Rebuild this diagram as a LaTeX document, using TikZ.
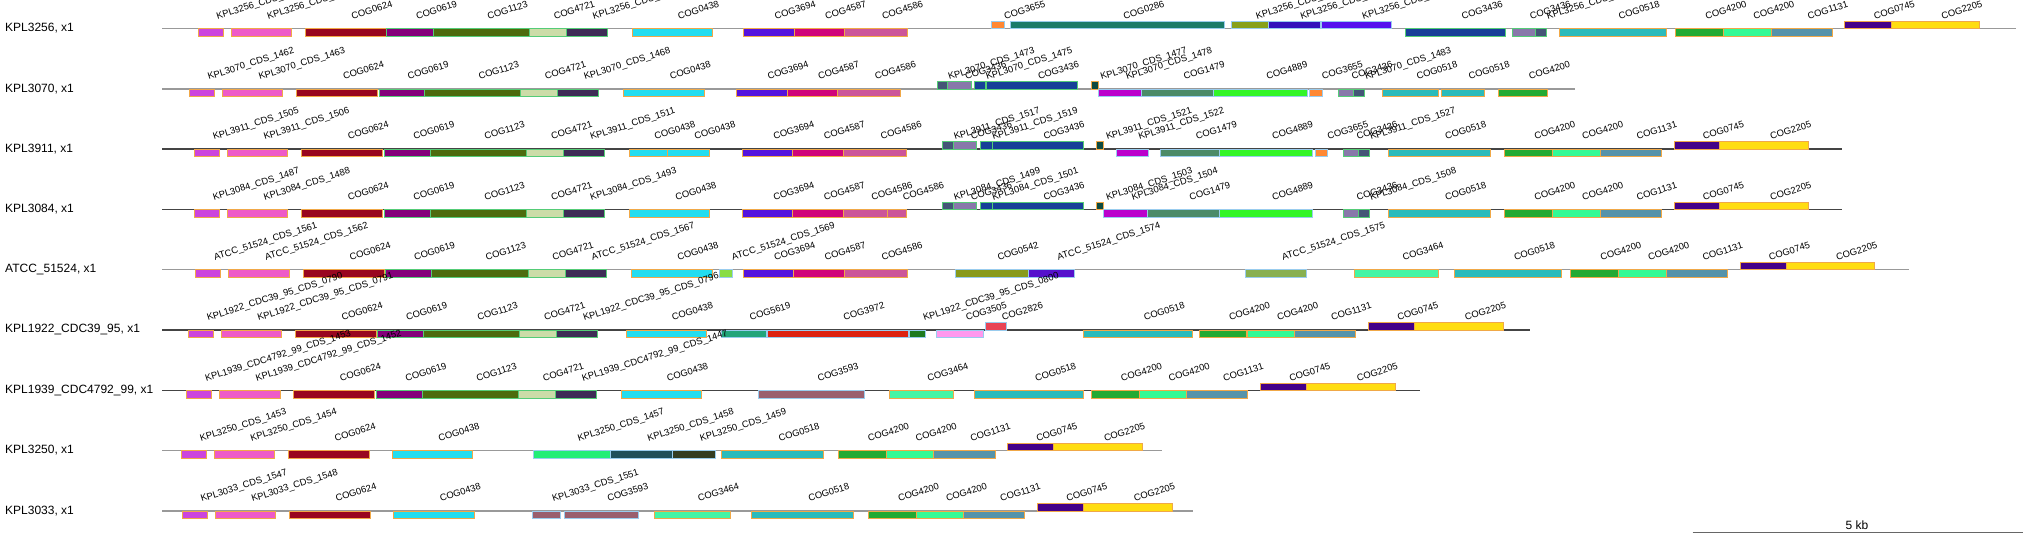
\documentclass[tikz,border=0pt]{standalone}
\usepackage{fontspec}
\setmainfont{Liberation Sans}
\definecolor{cMag}{HTML}{CC44DD}
\definecolor{cPink}{HTML}{EE5AC8}
\definecolor{cDR}{HTML}{99061F}
\definecolor{cPur}{HTML}{84007A}
\definecolor{cOli}{HTML}{4D6B0D}
\definecolor{cLG}{HTML}{CCDCA8}
\definecolor{cDS}{HTML}{3E2C56}
\definecolor{cCy}{HTML}{22DDF0}
\definecolor{cBV}{HTML}{5512DD}
\definecolor{cMR}{HTML}{D0047A}
\definecolor{cPkB}{HTML}{CC5599}
\definecolor{cOr}{HTML}{FF8833}
\definecolor{cTeal}{HTML}{1A7B6A}
\definecolor{cOlB}{HTML}{88A01A}
\definecolor{cDB}{HTML}{3311BB}
\definecolor{cBVB}{HTML}{5511EE}
\definecolor{cNavy}{HTML}{173F98}
\definecolor{cGP}{HTML}{8878AA}
\definecolor{cSl}{HTML}{445577}
\definecolor{cDT}{HTML}{0D4A40}
\definecolor{cMV}{HTML}{BB00CC}
\definecolor{cSG}{HTML}{4B8B68}
\definecolor{cBG}{HTML}{33F528}
\definecolor{cTf}{HTML}{2ABBBB}
\definecolor{cGf}{HTML}{22AA33}
\definecolor{cSp}{HTML}{33FA95}
\definecolor{cGB}{HTML}{5593AA}
\definecolor{cInd}{HTML}{440088}
\definecolor{cYel}{HTML}{FFDD11}
\definecolor{cLime}{HTML}{88DD44}
\definecolor{cOlC}{HTML}{889A1A}
\definecolor{cBVC}{HTML}{5511CC}
\definecolor{cMG}{HTML}{88B050}
\definecolor{cSea}{HTML}{44F5A5}
\definecolor{cTG}{HTML}{22A57A}
\definecolor{cRed}{HTML}{DD2211}
\definecolor{cDG}{HTML}{1E7A1E}
\definecolor{cLP}{HTML}{FF99EE}
\definecolor{cRP}{HTML}{E84455}
\definecolor{cMau}{HTML}{9A5F6E}
\definecolor{cSpG}{HTML}{22EE77}
\definecolor{cDTe}{HTML}{1F4F5A}
\definecolor{cDO}{HTML}{333D22}
\definecolor{bO}{HTML}{F0A848}
\definecolor{bG}{HTML}{55CC77}
\definecolor{bB}{HTML}{99CCEE}
\definecolor{lnL}{HTML}{999999}
\definecolor{lnD}{HTML}{444444}
\tikzset{
  genebox/.style={line width=0.8pt},
  glabel/.style={anchor=base west, rotate=17.5, inner sep=0pt, font=\fontsize{9.4}{10}\selectfont},
  rowlabel/.style={anchor=west, inner sep=0pt, font=\fontsize{12}{14}\selectfont},
  rowline/.style={line width=1.3pt},
}
\newcount\gnum
\newcommand\gD[5]{%
  \draw[genebox,fill=#3,draw=#4] (#1,\ry) rectangle (#2,\ry+7.5);
  \global\advance\gnum by 1
  \node[glabel] (l\the\gnum) at ({(#1+#2)/2+7},\ry-9) {#5};}
\newcommand\gU[5]{%
  \draw[genebox,fill=#3,draw=#4] (#1,\ry-7.5) rectangle (#2,\ry);
  \global\advance\gnum by 1
  \node[glabel] (l\the\gnum) at ({(#1+#2)/2+7},\ry-9) {#5};}
\newcommand\trk[5]{% name, y, end, line colour, label
  \def\ry{#2}
  \coordinate (#1s) at (162,#2);
  \coordinate (#1e) at (#3,#2);
  \draw[rowline,#4] (#1s) -- (#1e);
  \node[rowlabel] (#1lab) at (5,#2) {#5};}
\begin{document}
\begin{tikzpicture}[x=1pt,y=-1pt]
\useasboundingbox (0,0) rectangle (2030,540);
\clip (0,0) rectangle (2030,540);
% ---------------- row 1
\trk{r1}{28.5}{2016}{lnL}{KPL3256, x1}
\gD{198.0}{223.1}{cMag}{bO}{KPL3256\_CDS\_1522}
\gD{231.0}{291.3}{cPink}{bO}{KPL3256\_CDS\_1523}
\gD{305.0}{385.9}{cDR}{bO}{COG0624}
\gD{386.8}{433.4}{cPur}{bG}{COG0619}
\gD{433.4}{529.4}{cOli}{bG}{COG1123}
\gD{529.4}{566.3}{cLG}{bG}{COG4721}
\gD{566.3}{607.3}{cDS}{bG}{KPL3256\_CDS\_1528}
\gD{631.9}{712.1}{cCy}{bO}{COG0438}
\gD{743.4}{794.0}{cBV}{bO}{COG3694}
\gD{794.0}{844.6}{cMR}{bO}{COG4587}
\gD{844.6}{907.5}{cPkB}{bO}{COG4586}
\gU{991.6}{1004.8}{cOr}{bB}{COG3655}
\gU{1010.5}{1224.3}{cTeal}{bB}{COG0286}
\gU{1231.4}{1268.3}{cOlB}{bB}{KPL3256\_CDS\_1535}
\gU{1268.3}{1320.3}{cDB}{bB}{KPL3256\_CDS\_1536}
\gU{1321.1}{1391.2}{cBVB}{bB}{KPL3256\_CDS\_1537}
\gD{1405.7}{1505.7}{cNavy}{bG}{COG3436}
\gD{1512.5}{1535.2}{cGP}{bG}{COG3436}
\gD{1535.2}{1546.3}{cSl}{bG}{KPL3256\_CDS\_1540}
\gD{1559.1}{1666.4}{cTf}{bO}{COG0518}
\gD{1675.3}{1723.6}{cGf}{bO}{COG4200}
\gD{1723.6}{1771.1}{cSp}{bO}{COG4200}
\gD{1771.1}{1832.2}{cGB}{bO}{COG1131}
\gU{1844.6}{1891.1}{cInd}{bO}{COG0745}
\gU{1891.1}{1979.6}{cYel}{bO}{COG2205}
% ---------------- row 2
\trk{r2}{89}{1574.5}{lnL}{KPL3070, x1}
\gD{189.2}{214.3}{cMag}{bO}{KPL3070\_CDS\_1462}
\gD{222.7}{282.5}{cPink}{bO}{KPL3070\_CDS\_1463}
\gD{296.6}{377.6}{cDR}{bO}{COG0624}
\gD{378.9}{424.6}{cPur}{bG}{COG0619}
\gD{424.6}{520.6}{cOli}{bG}{COG1123}
\gD{520.6}{557.5}{cLG}{bG}{COG4721}
\gD{557.5}{598.5}{cDS}{bG}{KPL3070\_CDS\_1468}
\gD{623.5}{704.2}{cCy}{bO}{COG0438}
\gD{736.3}{786.9}{cBV}{bO}{COG3694}
\gD{786.9}{837.5}{cMR}{bO}{COG4587}
\gD{837.5}{900.5}{cPkB}{bO}{COG4586}
\gU{937.0}{947.5}{cSl}{bG}{KPL3070\_CDS\_1473}
\gU{947.5}{970.9}{cGP}{bG}{COG3436}
\gU{974.4}{985.4}{cNavy}{bG}{KPL3070\_CDS\_1475}
\gU{986.7}{1077.4}{cNavy}{bG}{COG3436}
\gU{1091.0}{1098.0}{cDT}{bO}{KPL3070\_CDS\_1477}
\gD{1098.0}{1141.6}{cMV}{bB}{KPL3070\_CDS\_1478}
\gD{1141.6}{1213.8}{cSG}{bB}{COG1479}
\gD{1213.8}{1307.1}{cBG}{bB}{COG4889}
\gD{1309.3}{1322.5}{cOr}{bB}{COG3655}
\gD{1337.9}{1353.3}{cGP}{bG}{COG3436}
\gD{1353.3}{1364.3}{cSl}{bG}{KPL3070\_CDS\_1483}
\gD{1382.6}{1438.6}{cTf}{bO}{COG0518}
\gD{1441.2}{1484.3}{cTf}{bO}{COG0518}
\gD{1498.4}{1547.6}{cGf}{bO}{COG4200}
% ---------------- row 3
\trk{r3}{149}{1841.6}{lnD}{KPL3911, x1}
\gD{194.5}{219.6}{cMag}{bO}{KPL3911\_CDS\_1505}
\gD{227.5}{287.8}{cPink}{bO}{KPL3911\_CDS\_1506}
\gD{301.4}{382.4}{cDR}{bO}{COG0624}
\gD{384.6}{430.4}{cPur}{bG}{COG0619}
\gD{430.4}{526.7}{cOli}{bG}{COG1123}
\gD{526.7}{563.7}{cLG}{bG}{COG4721}
\gD{563.7}{604.6}{cDS}{bG}{KPL3911\_CDS\_1511}
\gD{629.3}{667.5}{cCy}{bO}{COG0438}
\gD{667.5}{709.5}{cCy}{bO}{COG0438}
\gD{742.0}{792.7}{cBV}{bO}{COG3694}
\gD{792.7}{843.3}{cMR}{bO}{COG4587}
\gD{843.3}{906.2}{cPkB}{bO}{COG4586}
\gU{942.7}{953.3}{cSl}{bG}{KPL3911\_CDS\_1517}
\gU{953.3}{976.6}{cGP}{bG}{COG3436}
\gU{980.1}{992.0}{cNavy}{bG}{KPL3911\_CDS\_1519}
\gU{992.0}{1083.1}{cNavy}{bG}{COG3436}
\gU{1096.3}{1103.8}{cDT}{bO}{KPL3911\_CDS\_1521}
\gD{1116.5}{1148.2}{cMV}{bB}{KPL3911\_CDS\_1522}
\gD{1160.5}{1219.5}{cSG}{bB}{COG1479}
\gD{1219.5}{1312.8}{cBG}{bB}{COG4889}
\gD{1315.0}{1327.7}{cOr}{bB}{COG3655}
\gD{1343.1}{1358.1}{cGP}{bG}{COG3436}
\gD{1358.1}{1369.8}{cSl}{bG}{KPL3911\_CDS\_1527}
\gD{1388.6}{1489.9}{cTf}{bO}{COG0518}
\gD{1504.4}{1552.3}{cGf}{bO}{COG4200}
\gD{1552.3}{1600.1}{cSp}{bO}{COG4200}
\gD{1600.1}{1661.2}{cGB}{bO}{COG1131}
\gU{1674.1}{1719.8}{cInd}{bO}{COG0745}
\gU{1719.8}{1808.7}{cYel}{bO}{COG2205}
% ---------------- row 4
\trk{r4}{209.5}{1841.6}{lnD}{KPL3084, x1}
\gD{194.5}{219.6}{cMag}{bO}{KPL3084\_CDS\_1487}
\gD{227.5}{287.8}{cPink}{bO}{KPL3084\_CDS\_1488}
\gD{301.4}{382.4}{cDR}{bO}{COG0624}
\gD{384.6}{430.4}{cPur}{bG}{COG0619}
\gD{430.4}{526.7}{cOli}{bG}{COG1123}
\gD{526.7}{563.7}{cLG}{bG}{COG4721}
\gD{563.7}{604.6}{cDS}{bG}{KPL3084\_CDS\_1493}
\gD{629.3}{709.5}{cCy}{bO}{COG0438}
\gD{742.0}{792.7}{cBV}{bO}{COG3694}
\gD{792.7}{843.3}{cMR}{bO}{COG4587}
\gD{843.3}{887.7}{cPkB}{bO}{COG4586}
\gD{887.7}{906.2}{cPkB}{bO}{COG4586}
\gU{942.7}{953.3}{cSl}{bG}{KPL3084\_CDS\_1499}
\gU{953.3}{976.6}{cGP}{bG}{COG3436}
\gU{980.1}{992.0}{cNavy}{bG}{KPL3084\_CDS\_1501}
\gU{992.0}{1083.1}{cNavy}{bG}{COG3436}
\gU{1096.3}{1103.8}{cDT}{bO}{KPL3084\_CDS\_1503}
\gD{1103.8}{1147.3}{cMV}{bB}{KPL3084\_CDS\_1504}
\gD{1147.3}{1219.5}{cSG}{bB}{COG1479}
\gD{1219.5}{1312.8}{cBG}{bB}{COG4889}
\gD{1343.1}{1358.1}{cGP}{bG}{COG3436}
\gD{1358.1}{1369.8}{cSl}{bG}{KPL3084\_CDS\_1508}
\gD{1388.6}{1489.9}{cTf}{bO}{COG0518}
\gD{1504.4}{1552.3}{cGf}{bO}{COG4200}
\gD{1552.3}{1600.1}{cSp}{bO}{COG4200}
\gD{1600.1}{1661.2}{cGB}{bO}{COG1131}
\gU{1674.1}{1719.8}{cInd}{bO}{COG0745}
\gU{1719.8}{1808.7}{cYel}{bO}{COG2205}
% ---------------- row 5
\trk{r5}{269.5}{1908.7}{lnL}{ATCC\_51524, x1}
\gD{195.4}{220.5}{cMag}{bO}{ATCC\_51524\_CDS\_1561}
\gD{228.8}{289.1}{cPink}{bO}{ATCC\_51524\_CDS\_1562}
\gD{303.2}{384.2}{cDR}{bO}{COG0624}
\gD{385.0}{431.2}{cPur}{bG}{COG0619}
\gD{431.2}{528.1}{cOli}{bG}{COG1123}
\gD{528.1}{565.0}{cLG}{bG}{COG4721}
\gD{565.0}{606.0}{cDS}{bG}{ATCC\_51524\_CDS\_1567}
\gD{631.0}{712.0}{cCy}{bO}{COG0438}
\gD{719.6}{731.9}{cLime}{bB}{ATCC\_51524\_CDS\_1569}
\gD{742.9}{793.5}{cBV}{bO}{COG3694}
\gD{793.5}{844.1}{cMR}{bO}{COG4587}
\gD{844.1}{907.1}{cPkB}{bO}{COG4586}
\gD{955.0}{1028.1}{cOlC}{bB}{COG0542}
\gD{1028.1}{1074.3}{cBVC}{bB}{ATCC\_51524\_CDS\_1574}
\gD{1245.5}{1306.2}{cMG}{bB}{ATCC\_51524\_CDS\_1575}
\gD{1354.6}{1438.6}{cSea}{bO}{COG3464}
\gD{1454.4}{1561.7}{cTf}{bO}{COG0518}
\gD{1570.2}{1618.5}{cGf}{bO}{COG4200}
\gD{1618.5}{1666.0}{cSp}{bO}{COG4200}
\gD{1666.0}{1727.1}{cGB}{bO}{COG1131}
\gU{1739.9}{1786.0}{cInd}{bO}{COG0745}
\gU{1786.0}{1874.5}{cYel}{bO}{COG2205}
% ---------------- row 6
\trk{r6}{330}{1530}{lnD}{KPL1922\_CDC39\_95, x1}
\gD{188.3}{213.4}{cMag}{bO}{KPL1922\_CDC39\_95\_CDS\_0790}
\gD{221.3}{281.6}{cPink}{bO}{KPL1922\_CDC39\_95\_CDS\_0791}
\gD{295.3}{376.2}{cDR}{bO}{COG0624}
\gD{377.1}{423.3}{cPur}{bG}{COG0619}
\gD{423.3}{519.7}{cOli}{bG}{COG1123}
\gD{519.7}{556.7}{cLG}{bG}{COG4721}
\gD{556.7}{597.6}{cDS}{bG}{KPL1922\_CDC39\_95\_CDS\_0796}
\gD{626.0}{706.0}{cCy}{bO}{COG0438}
\gD{721.0}{766.3}{cTG}{bB}{COG5619}
\gD{767.1}{907.9}{cRed}{bB}{COG3972}
\gD{909.3}{925.1}{cDG}{bB}{KPL1922\_CDC39\_95\_CDS\_0800}
\gD{936.5}{983.2}{cLP}{bB}{COG3505}
\gU{985.8}{1006.1}{cRP}{bB}{COG2826}
\gD{1083.5}{1192.2}{cTf}{bO}{COG0518}
\gD{1199.3}{1246.8}{cGf}{bO}{COG4200}
\gD{1247.7}{1294.8}{cSp}{bO}{COG4200}
\gD{1294.8}{1355.5}{cGB}{bO}{COG1131}
\gU{1368.5}{1414.3}{cInd}{bO}{COG0745}
\gU{1414.3}{1503.6}{cYel}{bO}{COG2205}
% ---------------- row 7
\trk{r7}{390.5}{1419.8}{lnD}{KPL1939\_CDC4792\_99, x1}
\gD{186.6}{211.7}{cMag}{bO}{KPL1939\_CDC4792\_99\_CDS\_1453}
\gD{219.6}{279.9}{cPink}{bO}{KPL1939\_CDC4792\_99\_CDS\_1452}
\gD{293.5}{374.5}{cDR}{bO}{COG0624}
\gD{376.7}{422.4}{cPur}{bG}{COG0619}
\gD{422.4}{518.4}{cOli}{bG}{COG1123}
\gD{518.4}{555.3}{cLG}{bG}{COG4721}
\gD{555.3}{596.7}{cDS}{bG}{KPL1939\_CDC4792\_99\_CDS\_1447}
\gD{620.9}{701.1}{cCy}{bO}{COG0438}
\gD{758.8}{864.4}{cMau}{bB}{COG3593}
\gD{889.5}{953.3}{cSea}{bO}{COG3464}
\gD{974.8}{1083.5}{cTf}{bO}{COG0518}
\gD{1091.0}{1139.0}{cGf}{bO}{COG4200}
\gD{1139.0}{1186.5}{cSp}{bO}{COG4200}
\gD{1186.5}{1247.7}{cGB}{bO}{COG1131}
\gU{1260.4}{1306.2}{cInd}{bO}{COG0745}
\gU{1306.2}{1395.5}{cYel}{bO}{COG2205}
% ---------------- row 8
\trk{r8}{450.5}{1161.8}{lnL}{KPL3250, x1}
\gD{181.3}{206.4}{cMag}{bO}{KPL3250\_CDS\_1453}
\gD{214.3}{274.6}{cPink}{bO}{KPL3250\_CDS\_1454}
\gD{288.2}{369.2}{cDR}{bO}{COG0624}
\gD{392.5}{472.6}{cCy}{bO}{COG0438}
\gD{533.3}{610.3}{cSpG}{bB}{KPL3250\_CDS\_1457}
\gD{610.3}{672.4}{cDTe}{bB}{KPL3250\_CDS\_1458}
\gD{672.4}{715.6}{cDO}{bB}{KPL3250\_CDS\_1459}
\gD{721.8}{823.5}{cTf}{bO}{COG0518}
\gD{838.0}{885.9}{cGf}{bO}{COG4200}
\gD{885.9}{933.5}{cSp}{bO}{COG4200}
\gD{933.5}{995.1}{cGB}{bO}{COG1131}
\gU{1007.0}{1053.6}{cInd}{bO}{COG0745}
\gU{1053.6}{1142.5}{cYel}{bO}{COG2205}
% ---------------- row 9
\trk{r9}{511}{1192.6}{lnL}{KPL3033, x1}
\gD{182.2}{207.3}{cMag}{bO}{KPL3033\_CDS\_1547}
\gD{215.2}{275.5}{cPink}{bO}{KPL3033\_CDS\_1548}
\gD{289.1}{370.1}{cDR}{bO}{COG0624}
\gD{393.8}{473.9}{cCy}{bO}{COG0438}
\gD{532.0}{560.6}{cMau}{bB}{KPL3033\_CDS\_1551}
\gD{564.6}{638.1}{cMau}{bB}{COG3593}
\gD{653.9}{730.2}{cSea}{bO}{COG3464}
\gD{751.3}{853.4}{cTf}{bO}{COG0518}
\gD{867.9}{916.3}{cGf}{bO}{COG4200}
\gD{916.3}{963.8}{cSp}{bO}{COG4200}
\gD{963.8}{1024.6}{cGB}{bO}{COG1131}
\gU{1037.3}{1083.5}{cInd}{bO}{COG0745}
\gU{1083.5}{1172.4}{cYel}{bO}{COG2205}
% ---------------- scale bar
\coordinate (sbL) at (1692.5,532.3);
\coordinate (sbR) at (2023.2,532.3);
\draw[line width=1.4pt, color=black!60] (sbL) -- (sbR);
\node[font=\fontsize{12}{14}\selectfont, inner sep=0pt] (sblab) at (1857,525.5) {5 kb};
\end{tikzpicture}
\end{document}
